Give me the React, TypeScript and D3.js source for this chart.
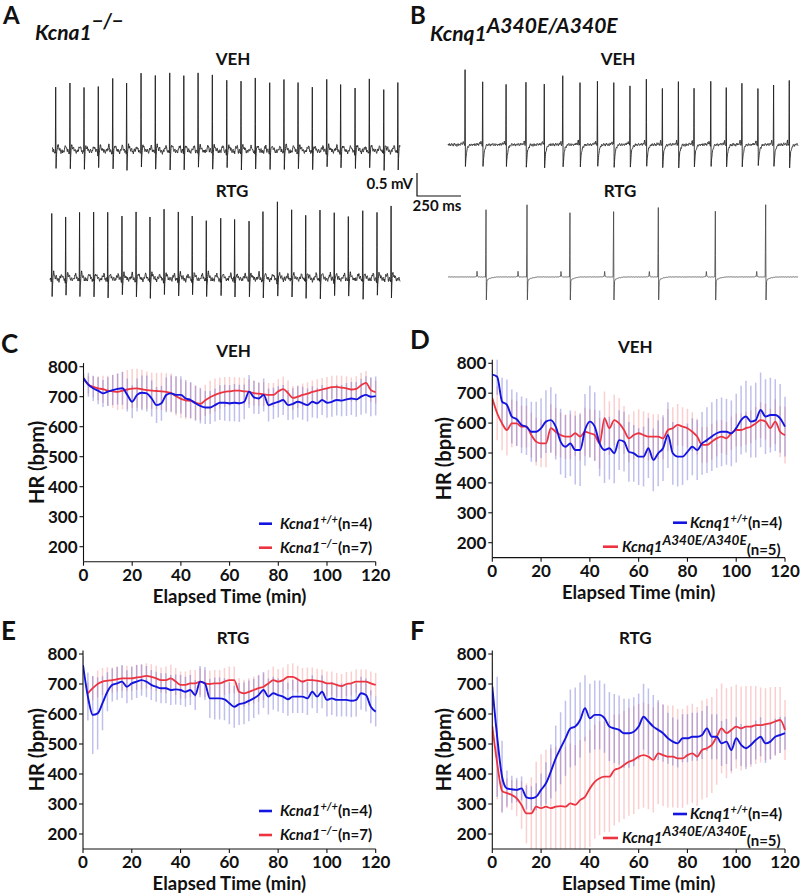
import React from 'react';
import * as d3 from 'd3';

// ---------- HR time series (bpm), sampled every 2 min from 0 to 120 ----------
const T = d3.range(0, 121, 2);

const C_BLUE = [762, 740, 728, 720, 711, 717, 722, 726, 728, 706, 683, 706, 713, 711, 694, 672, 678, 706, 711, 706, 706, 694, 689, 678, 669, 664, 664, 672, 680, 680, 678, 680, 678, 683, 717, 698, 694, 706, 672, 678, 683, 689, 672, 676, 683, 678, 672, 683, 678, 689, 680, 683, 689, 687, 691, 694, 691, 700, 706, 700, 702];
const C_BLUE_ERR = [15, 40, 42, 45, 45, 48, 50, 52, 55, 55, 55, 55, 58, 60, 60, 60, 58, 58, 60, 62, 62, 62, 60, 58, 58, 55, 55, 55, 58, 60, 60, 62, 62, 58, 55, 55, 52, 55, 55, 52, 52, 50, 50, 52, 52, 55, 55, 52, 50, 50, 50, 50, 52, 52, 55, 55, 58, 60, 62, 65, 65];
const C_RED = [760, 740, 733, 728, 725, 720, 718, 716, 720, 724, 727, 728, 725, 722, 720, 719, 718, 716, 712, 702, 693, 688, 686, 680, 676, 688, 698, 706, 712, 716, 718, 720, 720, 718, 716, 712, 710, 708, 706, 706, 718, 725, 712, 696, 700, 706, 710, 716, 720, 724, 728, 732, 733, 730, 728, 724, 726, 738, 746, 722, 715];
const C_RED_ERR = [15, 30, 35, 40, 45, 50, 55, 60, 62, 65, 65, 65, 65, 62, 60, 60, 62, 62, 65, 65, 65, 62, 60, 58, 55, 52, 55, 55, 52, 50, 48, 45, 45, 45, 42, 42, 40, 40, 40, 40, 40, 42, 42, 40, 38, 38, 38, 38, 38, 38, 38, 38, 38, 40, 40, 40, 42, 42, 40, 40, 38];

const D_BLUE = [762, 755, 672, 661, 622, 613, 594, 588, 571, 571, 583, 605, 610, 588, 538, 521, 532, 510, 510, 577, 605, 588, 532, 510, 516, 499, 543, 538, 504, 499, 488, 488, 516, 477, 499, 516, 560, 499, 488, 488, 504, 521, 510, 532, 543, 555, 566, 571, 571, 566, 583, 610, 622, 605, 610, 644, 622, 627, 627, 616, 588];
const D_BLUE_ERR = [40, 60, 80, 85, 90, 90, 95, 95, 100, 100, 100, 105, 110, 110, 110, 105, 110, 115, 120, 120, 120, 115, 110, 110, 105, 100, 100, 100, 100, 95, 95, 100, 100, 105, 110, 110, 110, 105, 100, 95, 95, 95, 100, 105, 110, 115, 115, 115, 110, 110, 115, 115, 120, 120, 125, 125, 125, 125, 120, 115, 100];
const D_RED = [683, 633, 599, 577, 599, 599, 588, 588, 560, 538, 532, 532, 583, 571, 560, 555, 555, 566, 555, 571, 566, 560, 532, 616, 583, 610, 599, 577, 549, 560, 566, 560, 555, 555, 555, 549, 577, 583, 594, 588, 583, 571, 555, 527, 527, 538, 549, 555, 549, 566, 577, 577, 583, 588, 599, 610, 605, 583, 605, 571, 560];
const D_RED_ERR = [60, 90, 90, 85, 80, 75, 70, 70, 75, 80, 80, 80, 80, 80, 75, 75, 75, 75, 80, 80, 80, 85, 85, 90, 90, 85, 85, 80, 80, 80, 80, 80, 80, 75, 75, 70, 70, 70, 70, 65, 65, 65, 60, 60, 60, 60, 60, 55, 55, 55, 55, 55, 55, 55, 55, 60, 60, 65, 75, 85, 95];

const E_BLUE = [763, 658, 597, 602, 636, 674, 697, 702, 708, 691, 702, 708, 713, 708, 697, 691, 686, 686, 680, 682, 680, 674, 680, 663, 708, 702, 652, 652, 652, 649, 636, 624, 633, 636, 644, 652, 663, 680, 658, 669, 663, 658, 649, 658, 658, 658, 652, 674, 658, 674, 647, 652, 647, 647, 647, 644, 647, 669, 663, 624, 608];
const E_BLUE_ERR = [30, 80, 130, 120, 90, 65, 55, 55, 55, 55, 55, 55, 52, 52, 50, 50, 50, 50, 50, 50, 50, 50, 50, 50, 52, 55, 65, 70, 70, 70, 70, 70, 70, 70, 68, 65, 65, 60, 60, 55, 55, 55, 55, 55, 55, 55, 55, 55, 55, 55, 55, 55, 55, 55, 55, 55, 55, 55, 55, 55, 50];
const E_RED = [NaN, 669, 686, 700, 708, 711, 713, 716, 719, 719, 719, 722, 724, 727, 724, 719, 713, 713, 719, 708, 697, 697, 702, 702, 708, 702, 700, 702, 702, 708, 713, 713, 674, 669, 674, 680, 686, 691, 702, 713, 708, 713, 724, 724, 716, 708, 713, 713, 711, 708, 702, 702, 697, 693, 700, 702, 708, 708, 708, 702, 697];
const E_RED_ERR = [0, 35, 40, 45, 45, 45, 42, 42, 42, 42, 42, 42, 42, 42, 42, 42, 42, 45, 45, 45, 45, 45, 45, 45, 45, 45, 45, 45, 45, 45, 45, 45, 45, 45, 45, 45, 45, 45, 45, 45, 42, 42, 42, 45, 45, 45, 42, 42, 40, 40, 40, 40, 40, 40, 40, 40, 40, 40, 40, 40, 40];

const F_BLUE = [691, 524, 391, 352, 349, 347, 352, 322, 319, 324, 347, 369, 408, 452, 486, 519, 552, 558, 580, 619, 586, 597, 597, 586, 558, 552, 547, 536, 536, 541, 558, 591, 575, 558, 547, 536, 519, 508, 502, 519, 519, 524, 524, 530, 552, 524, 524, 502, 508, 480, 519, 497, 486, 497, 513, 524, 502, 508, 524, 530, 536];
const F_BLUE_ERR = [80, 200, 120, 60, 45, 40, 40, 40, 40, 45, 55, 70, 90, 110, 120, 125, 130, 130, 125, 110, 115, 115, 115, 115, 115, 115, 115, 115, 115, 115, 110, 110, 110, 105, 100, 95, 85, 80, 80, 80, 80, 80, 80, 80, 75, 75, 75, 75, 75, 70, 70, 70, 70, 65, 65, 65, 65, 60, 60, 60, 55];
const F_RED = [560, 436, 344, 336, 330, 319, 297, 269, 269, 291, 286, 291, 286, 291, 293, 291, 302, 297, 313, 324, 352, 374, 386, 391, 391, 413, 419, 430, 441, 447, 458, 463, 458, 447, 469, 463, 458, 458, 452, 452, 463, 469, 458, 480, 486, 497, 524, 552, 536, 547, 558, 552, 558, 558, 563, 563, 566, 569, 575, 580, 547];
const F_RED_ERR = [180, 120, 70, 50, 50, 60, 80, 100, 120, 150, 180, 190, 200, 200, 200, 200, 200, 200, 200, 200, 195, 190, 190, 185, 185, 185, 180, 180, 180, 180, 175, 175, 175, 175, 170, 170, 170, 170, 165, 165, 165, 165, 165, 165, 165, 160, 160, 150, 150, 145, 140, 140, 135, 135, 130, 125, 120, 120, 115, 110, 100];

const Y_TICKS = [200, 300, 400, 500, 600, 700, 800];
const X_TICKS = [0, 20, 40, 60, 80, 100, 120];

// ---------- ECG traces: R-peak times (ms) and R amplitudes (mV) ----------
const A_VEH_R = [21, 102, 182, 263, 345, 424, 506, 587, 669, 749, 830, 911, 993, 1074, 1155, 1237, 1318, 1398, 1479, 1561, 1640, 1722, 1803, 1885, 1965];
const A_VEH_AMP = [1.35, 1.46, 1.38, 1.42, 1.55, 1.51, 1.66, 1.64, 1.70, 1.68, 1.67, 1.65, 1.55, 1.54, 1.57, 1.49, 1.54, 1.47, 1.41, 1.55, 1.43, 1.42, 1.53, 1.36, 1.49];
const A_RTG_R = [10, 89, 168, 248, 328, 409, 489, 568, 648, 729, 808, 888, 970, 1049, 1131, 1210, 1292, 1373, 1453, 1534, 1615, 1695, 1777, 1858, 1938];
const A_RTG_AMP = [1.41, 1.34, 1.48, 1.47, 1.48, 1.36, 1.43, 1.38, 1.50, 1.43, 1.38, 1.30, 1.34, 1.33, 1.23, 1.46, 1.69, 1.50, 1.41, 1.52, 1.48, 1.32, 1.51, 1.45, 1.61];
const B_VEH_R = [97, 197, 330, 443, 547, 652, 750, 849, 942, 1034, 1127, 1218, 1309, 1398, 1493, 1581, 1670, 1761, 1850, 1939];
const B_VEH_AMP = [1.65, 1.38, 1.33, 1.35, 1.33, 1.48, 1.38, 1.38, 1.35, 1.28, 1.43, 1.23, 1.38, 1.21, 1.39, 1.23, 1.34, 1.21, 1.28, 1.41];
const B_RTG_R = [216, 449, 693, 941, 1195, 1519, 1805];
const B_RTG_AMP = [1.46, 1.57, 1.40, 1.42, 1.51, 1.43, 1.57];

// beat shapes: offsets (ms) from R and voltage (mV); NaN marks the R peak
const TPL_A_DT = [-36, -28, -22, -16, -5, -2, 0, 2, 4, 7, 11, 16, 24, 34];
const TPL_A_V = [0, 0.07, 0.12, 0.02, 0, -0.06, NaN, -0.37, -0.12, 0.05, 0.14, 0.08, 0.04, 0];
const TPL_BV_DT = [-40, -14, -10, -7, -2, 0, 2, 4, 8, 14, 22, 32];
const TPL_BV_V = [0, 0.02, 0.08, 0.0, 0, NaN, -0.48, -0.36, -0.18, -0.07, -0.02, 0];
const TPL_BR_DT = [-70, -54, -51, -48, -44, -3, 0, 2, 5, 10, 30, 60];
const TPL_BR_V = [0, 0.01, 0.12, 0.02, 0, 0, NaN, -0.5, -0.1, -0.05, -0.02, 0];
// baseline wiggle (mV), one value per 3 ms
const NOISE = [0, 0.04, -0.02, 0.05, 0.01, -0.03, 0.03, 0.06, -0.01, 0.02, -0.04, 0.03, 0.07, 0.0, -0.02, 0.04, 0.02, -0.05, 0.01, 0.05, -0.02, 0.03, 0.0, -0.03, 0.04, 0.06, 0.01, -0.02, 0.03, -0.01, 0.05, 0.02, -0.04, 0.02, 0.04, -0.01, 0.03, 0.06, 0.0, -0.03, 0.02, 0.05, -0.02, 0.01, 0.04, 0.0, -0.03, 0.03];

const FONT = "Lato, 'Open Sans', sans-serif";
const BLUE = '#1414e0';
const RED = '#ec3340';
const BLUE_ERR = 'rgba(90,90,205,0.38)';
const RED_ERR = 'rgba(242,130,130,0.38)';
const MS_PX = 0.176; // px per ms
const MV_PX = 46; // px per mV

function tplAt(dts: number[], vs: number[], d: number, amp: number) {
  for (let i = 0; i < dts.length - 1; i++) {
    if (d >= dts[i] && d <= dts[i + 1]) {
      const a = isNaN(vs[i]) ? amp : vs[i];
      const b = isNaN(vs[i + 1]) ? amp : vs[i + 1];
      const f = (d - dts[i]) / (dts[i + 1] - dts[i] || 1);
      return a + (b - a) * f;
    }
  }
  return 0;
}
function noiseAt(t: number) {
  const k = t / 3;
  const i = Math.floor(k);
  const f = k - i;
  const a = NOISE[i % NOISE.length];
  const b = NOISE[(i + 1) % NOISE.length];
  return a + (b - a) * f;
}

type Trace = { x: number; base: number; dur: number; r: number[]; amp: number[]; dt: number[]; v: number[]; noise: number; color: string; w: number };

const TRACES: Trace[] = [
  { x: 52, base: 152, dur: 1977, r: A_VEH_R, amp: A_VEH_AMP, dt: TPL_A_DT, v: TPL_A_V, noise: 1.0, color: '#1e1e1e', w: 0.9 },
  { x: 50, base: 280, dur: 1989, r: A_RTG_R, amp: A_RTG_AMP, dt: TPL_A_DT, v: TPL_A_V, noise: 1.0, color: '#1e1e1e', w: 0.9 },
  { x: 448, base: 145, dur: 1989, r: B_VEH_R, amp: B_VEH_AMP, dt: TPL_BV_DT, v: TPL_BV_V, noise: 0.6, color: '#222', w: 0.9 },
  { x: 448, base: 277, dur: 1989, r: B_RTG_R, amp: B_RTG_AMP, dt: TPL_BR_DT, v: TPL_BR_V, noise: 0.08, color: '#444', w: 0.8 },
];

function ecgPath(tr: Trace) {
  const x = d3.scaleLinear().domain([0, 1000]).range([tr.x, tr.x + MS_PX * 1000]);
  const y = d3.scaleLinear().domain([0, 1]).range([tr.base, tr.base - MV_PX]);
  const lo = tr.dt[0], hi = tr.dt[tr.dt.length - 1];
  const pts: [number, number][] = [];
  for (let t = 0; t <= tr.dur; t += 1) {
    let v = noiseAt(t) * tr.noise;
    tr.r.forEach((r, i) => {
      const d = t - r;
      if (d >= lo && d <= hi) v += tplAt(tr.dt, tr.v, d, tr.amp[i]);
    });
    pts.push([t, v]);
  }
  return d3.line<[number, number]>().x((d) => x(d[0])).y((d) => y(d[1]))(pts) || '';
}

type Panel = {
  letter: string; title: string; x0: number; x1: number; y800: number; y200: number;
  blue: number[]; blueErr: number[]; red: number[]; redErr: number[]; gene: 'a' | 'q';
};

const PANELS: Panel[] = [
  { letter: 'C', title: 'VEH', x0: 83.5, x1: 375.7, y800: 366.7, y200: 546.7, blue: C_BLUE, blueErr: C_BLUE_ERR, red: C_RED, redErr: C_RED_ERR, gene: 'a' },
  { letter: 'D', title: 'VEH', x0: 492.3, x1: 785, y800: 363.3, y200: 542.7, blue: D_BLUE, blueErr: D_BLUE_ERR, red: D_RED, redErr: D_RED_ERR, gene: 'q' },
  { letter: 'E', title: 'RTG', x0: 83, x1: 375.7, y800: 654, y200: 834, blue: E_BLUE, blueErr: E_BLUE_ERR, red: E_RED, redErr: E_RED_ERR, gene: 'a' },
  { letter: 'F', title: 'RTG', x0: 492.3, x1: 785, y800: 654, y200: 834, blue: F_BLUE, blueErr: F_BLUE_ERR, red: F_RED, redErr: F_RED_ERR, gene: 'q' },
];

function ErrBars({ x, y, m, e, color }: { x: any; y: any; m: number[]; e: number[]; color: string }) {
  return (
    <g stroke={color} strokeWidth={1.5}>
      {m.map((v, i) => (isNaN(v) ? null : <line key={i} x1={x(T[i])} x2={x(T[i])} y1={y(v - e[i])} y2={y(v + e[i])} />))}
    </g>
  );
}

function Legend({ p }: { p: Panel }) {
  if (p.gene === 'a') {
    const lb = p.y200 - 23, lr = p.y200 + 1;
    return (
      <g fontFamily={FONT} fontWeight={700} fontSize={15} fill="#111">
        <line x1={259} x2={272} y1={lb} y2={lb} stroke={BLUE} strokeWidth={2.6} />
        <text x={280} y={lb + 5}>
          <tspan fontStyle="italic">Kcna1</tspan>
          <tspan fontStyle="italic" fontSize={11} dy={-6}>+/+</tspan>
          <tspan dy={6}>(n=4)</tspan>
        </text>
        <line x1={259} x2={272} y1={lr} y2={lr} stroke={RED} strokeWidth={2.6} />
        <text x={280} y={lr + 5}>
          <tspan fontStyle="italic">Kcna1</tspan>
          <tspan fontStyle="italic" fontSize={11} dy={-6}>−/−</tspan>
          <tspan dy={6}>(n=7)</tspan>
        </text>
      </g>
    );
  }
  const lb = p.y200 - 20, lr = p.y200 + 4;
  return (
    <g fontFamily={FONT} fontWeight={700} fontSize={15} fill="#111">
      <line x1={673} x2={687} y1={lb} y2={lb} stroke={BLUE} strokeWidth={2.6} />
      <text x={690} y={lb + 5}>
        <tspan fontStyle="italic">Kcnq1</tspan>
        <tspan fontStyle="italic" fontSize={11} dy={-6}>+/+</tspan>
        <tspan dy={6}>(n=4)</tspan>
      </text>
      <line x1={603} x2={618} y1={lr} y2={lr} stroke={RED} strokeWidth={2.6} />
      <text x={622} y={lr + 5}>
        <tspan fontStyle="italic">Kcnq1</tspan>
        <tspan fontStyle="italic" fontSize={13.5} dy={-7}>A340E/A340E</tspan>
        <tspan dy={10}>(n=5)</tspan>
      </text>
    </g>
  );
}

function HRPanel({ p }: { p: Panel }) {
  const x = d3.scaleLinear().domain([0, 120]).range([p.x0, p.x1]);
  const y = d3.scaleLinear().domain([200, 800]).range([p.y200, p.y800]);
  const yB = y(150), yT = y(812);
  const line = d3.line<number>().defined((d) => !isNaN(d)).x((_, i) => x(T[i])).y((d) => y(d)).curve(d3.curveMonotoneX);
  const clip = 'clip' + p.letter;
  const xm = (p.x0 + p.x1) / 2;
  const left = p.x0 < 300;
  return (
    <g>
      <defs>
        <clipPath id={clip}>
          <rect x={p.x0} y={yT} width={p.x1 - p.x0 + 3} height={yB - yT} />
        </clipPath>
      </defs>
      <g clipPath={`url(#${clip})`}>
        <ErrBars x={x} y={y} m={p.red} e={p.redErr} color={RED_ERR} />
        <ErrBars x={x} y={y} m={p.blue} e={p.blueErr} color={BLUE_ERR} />
        <path d={line(p.red) || ''} fill="none" stroke={RED} strokeWidth={1.8} />
        <path d={line(p.blue) || ''} fill="none" stroke={BLUE} strokeWidth={1.9} />
      </g>
      <g stroke="#111" strokeWidth={1.1}>
        <line x1={p.x0} x2={p.x0} y1={yT} y2={yB} />
        <line x1={p.x0} x2={p.x1} y1={yB} y2={yB} />
        {Y_TICKS.map((t) => <line key={'y' + t} x1={p.x0 - 4} x2={p.x0} y1={y(t)} y2={y(t)} />)}
        {X_TICKS.map((t) => <line key={'x' + t} x1={x(t)} x2={x(t)} y1={yB} y2={yB + 4} />)}
      </g>
      <g fontFamily={FONT} fontWeight={700} fill="#111">
        {Y_TICKS.map((t) => (
          <text key={'yl' + t} x={p.x0 - 6} y={y(t)} dy="0.36em" textAnchor="end" fontSize={17}>{t}</text>
        ))}
        {X_TICKS.map((t) => (
          <text key={'xl' + t} x={x(t)} y={yB + 19} textAnchor="middle" fontSize={17}>{t}</text>
        ))}
        <text x={xm} y={yB + 41} textAnchor="middle" fontSize={18.5}>Elapsed Time (min)</text>
        <text transform={`translate(${left ? 36 : 443},${(yT + yB) / 2}) rotate(-90)`} textAnchor="middle" dominantBaseline="central" fontSize={20}>HR (bpm)</text>
        <text x={p.x0 + (left ? 150 : 143)} y={p.y800 - 10} textAnchor="middle" fontSize={17}>{p.title}</text>
        <text x={left ? 1 : 410} y={p.y800 - 14} fontSize={26}>{p.letter}</text>
      </g>
      <Legend p={p} />
    </g>
  );
}

export default function App() {
  const sx = d3.scaleLinear().domain([0, 250]).range([417, 417 + 250 * MS_PX]);
  const sy = d3.scaleLinear().domain([0, 0.5]).range([196, 196 - 0.5 * MV_PX]);
  return (
    <svg width={800} height={895} viewBox="0 0 800 895" style={{ position: 'absolute', left: 0, top: 0, background: '#fff' }}>
      <rect width={800} height={895} fill="#fff" />
      <g fontFamily={FONT} fontWeight={700} fill="#111">
        <text x={3} y={24} fontSize={24}>A</text>
        <text x={410} y={24} fontSize={24}>B</text>
        <text x={35} y={40} fontSize={21}>
          <tspan fontStyle="italic">Kcna1</tspan>
          <tspan fontStyle="italic" fontSize={20} dy={-12}>−/−</tspan>
        </text>
        <text x={430} y={41} fontSize={21}>
          <tspan fontStyle="italic">Kcnq1</tspan>
          <tspan fontStyle="italic" fontSize={21} dy={-8}>A340E/A340E</tspan>
        </text>
        <text x={233} y={65} textAnchor="middle" fontSize={17}>VEH</text>
        <text x={618} y={65} textAnchor="middle" fontSize={17}>VEH</text>
        <text x={232} y={197} textAnchor="middle" fontSize={17}>RTG</text>
        <text x={620} y={197} textAnchor="middle" fontSize={17}>RTG</text>
        <text x={413} y={189} textAnchor="end" fontSize={15}>0.5 mV</text>
        <text x={437} y={211} textAnchor="middle" fontSize={15}>250 ms</text>
      </g>
      {TRACES.map((tr, i) => (
        <path key={i} d={ecgPath(tr)} fill="none" stroke={tr.color} strokeWidth={tr.w} strokeLinejoin="round" />
      ))}
      <path d={`M${sx(0)},${sy(0.5)} L${sx(0)},${sy(0)} L${sx(250)},${sy(0)}`} fill="none" stroke="#111" strokeWidth={1.2} />
      {PANELS.map((p) => <HRPanel key={p.letter} p={p} />)}
    </svg>
  );
}
